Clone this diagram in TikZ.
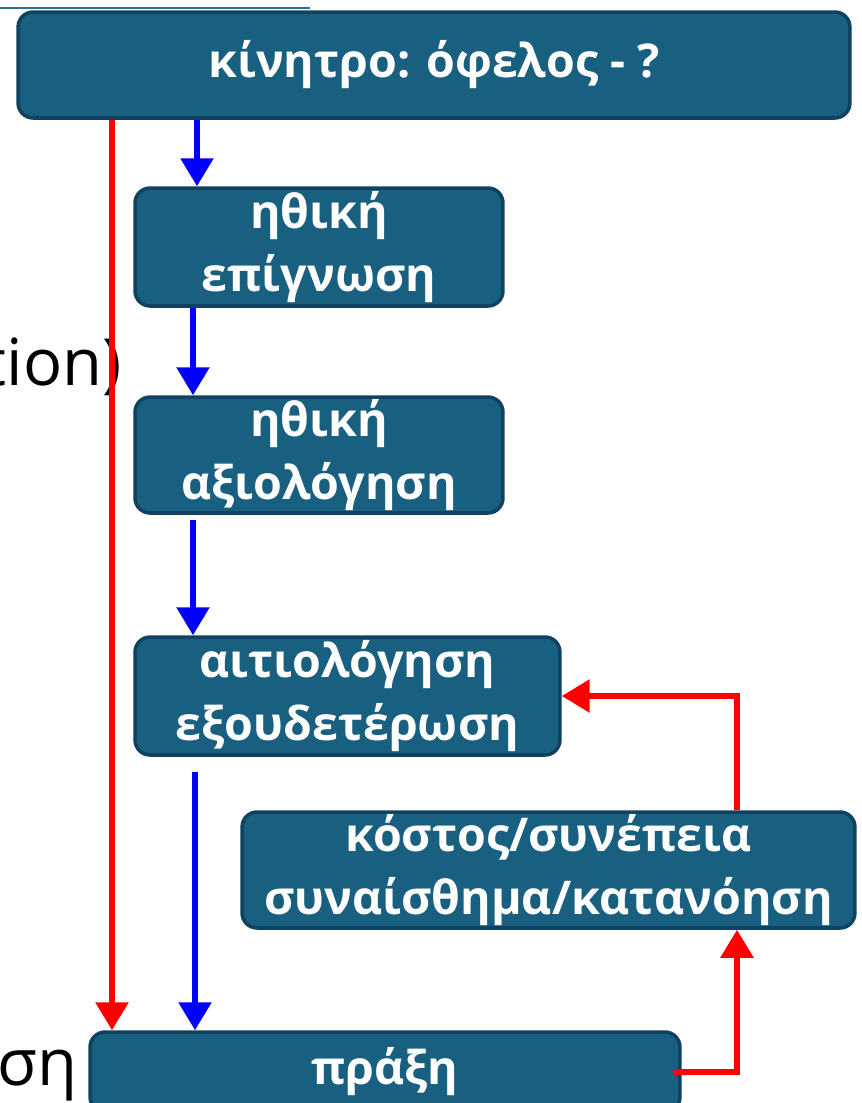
\documentclass[tikz,border=0pt]{standalone}
\usepackage{fontspec}
\setmainfont{Open Sans}
\usetikzlibrary{arrows.meta,positioning}

\definecolor{boxfill}{RGB}{24,95,128}
\definecolor{boxline}{RGB}{14,66,96}
\definecolor{topline}{RGB}{44,110,142}

\begin{document}
\begin{tikzpicture}[
    x=0.02cm, y=-0.02cm,
    stage/.style={
        draw=boxline,
        fill=boxfill,
        line width=2pt,
        rounded corners=0.3cm,
        text=white,
        font=\fontsize{26.5}{36}\selectfont\bfseries,
        align=center,
        inner sep=0pt
    },
    flow/.style={blue, line width=3.2pt, -{Triangle[width=0.64cm,length=0.56cm]}},
    loop/.style={red, line width=3.4pt, -{Triangle[width=0.64cm,length=0.56cm]}},
    cut/.style={font=\fontsize{37}{44}\selectfont, anchor=base east, inner sep=0pt}
    ]
    \useasboundingbox (0,0) rectangle (862,1103);
    \clip (0,0) rectangle (862,1103);

    \draw[topline, line width=1.7pt] (0,8) -- (310,8);

    \node[stage, minimum width=16.64cm, minimum height=2.12cm] (Motive) at (434,65) {κίνητρο: όφελος - ?};
    \node[stage, minimum width=7.36cm, minimum height=2.36cm] (Awareness) at (319,247) {ηθική\\επίγνωση};
    \node[stage, minimum width=7.36cm, minimum height=2.32cm] (Judgement) at (319,455) {ηθική\\αξιολόγηση};
    \node[stage, minimum width=8.5cm, minimum height=2.36cm] (Justify) at (347.5,696) {αιτιολόγηση\\εξουδετέρωση};
    \node[stage, minimum width=12.26cm, minimum height=2.32cm] (Cost) at (548.5,870) {κόστος/συνέπεια\\συναίσθημα/κατανόηση};
    \node[stage, minimum width=11.8cm, minimum height=1.6cm] (Action) at (385,1072) {πράξη};

    % text cut off at the left edge
    \node[cut] (TextA) at (122,385) {tion)};
    \node[cut] (TextB) at (78,1085) {ση};

    \coordinate (redx) at (112,0);
    \coordinate (bluea) at (197,0);
    \coordinate (blueb) at (193,0);
    \coordinate (bluec) at (195,0);
    \coordinate (loopx) at (737,0);

    \draw[loop] (Motive.south -| redx) -- (Action.north -| redx);
    \draw[flow] (Motive.south -| bluea) -- (Awareness.north -| bluea);
    \draw[flow] (Awareness.south -| blueb) -- (Judgement.north -| blueb);
    \draw[flow] ([yshift=-0.1cm]Judgement.south -| blueb) -- (Justify.north -| blueb);
    \draw[flow] ([yshift=-0.3cm]Justify.south -| bluec) -- (Action.north -| bluec);
    \draw[loop] ([xshift=-0.16cm]Action.east) -| (Cost.south -| loopx);
    \draw[loop] (Cost.north -| loopx) |- (Justify.east);
\end{tikzpicture}
\end{document}
